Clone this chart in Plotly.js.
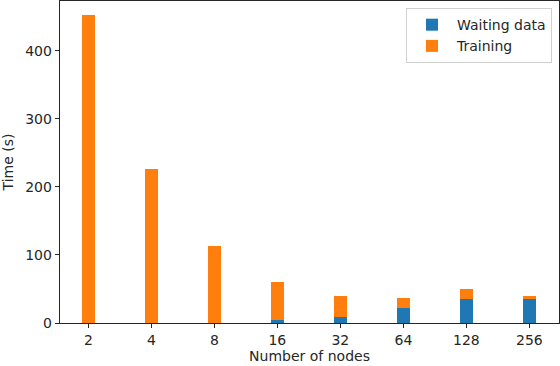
<!DOCTYPE html>
<html>
<head>
<meta charset="utf-8">
<script src="https://cdn.plot.ly/plotly-3.0.1.min.js"></script>
<style>
  html, body { margin: 0; padding: 0; background: #fff; }
  #chart { width: 560px; height: 366px; }
</style>
</head>
<body>
<div id="chart"></div>
<script>
// --- data ---
const nodes = ['2', '4', '8', '16', '32', '64', '128', '256'];
const waitingData = [0, 0, 0, 5, 9, 22, 35, 35];
const training = [452, 226, 113, 55, 31, 15, 15, 5];

const axisColor = '#262626';
const font = { family: 'DejaVu Sans, sans-serif', size: 14, color: '#262626' };

const traces = [
    {
        type: 'bar',
        name: 'Waiting data',
        x: nodes,
        y: waitingData,
        width: 0.2,
        marker: { color: '#1f77b4', line: { width: 0 } }
    },
    {
        type: 'bar',
        name: 'Training',
        x: nodes,
        y: training,
        width: 0.2,
        marker: { color: '#ff7f0e', line: { width: 0 } }
    }
];

const layout = {
    width: 560,
    height: 366,
    margin: { l: 60, r: 1, t: 1, b: 43 },
    barmode: 'stack',
    paper_bgcolor: '#fff',
    plot_bgcolor: '#fff',
    font: font,
    showlegend: true,
    legend: {
        x: 0.986, y: 0.978,
        xanchor: 'right', yanchor: 'top',
        traceorder: 'normal',
        bgcolor: 'rgba(255,255,255,0.8)',
        bordercolor: '#d0d0d0',
        borderwidth: 1,
        itemwidth: 40,
        font: { family: font.family, size: 14, color: '#262626' }
    },
    xaxis: {
        type: 'category',
        range: [-0.45, 7.47],
        showgrid: false,
        zeroline: false,
        showline: true,
        mirror: true,
        linecolor: axisColor,
        linewidth: 1.3,
        ticks: 'outside',
        ticklen: 4,
        tickcolor: axisColor,
        title: { text: 'Number of nodes', standoff: 4, font: { size: 14 } }
    },
    yaxis: {
        range: [0, 473],
        tickvals: [0, 100, 200, 300, 400],
        showgrid: false,
        zeroline: false,
        showline: true,
        mirror: true,
        linecolor: axisColor,
        linewidth: 1.3,
        ticks: 'outside',
        ticklen: 4,
        tickcolor: axisColor,
        title: { text: 'Time (s)', standoff: 12, font: { size: 14 } }
    }
};

Plotly.newPlot('chart', traces, layout, { staticPlot: true, displayModeBar: false });
</script>
</body>
</html>
